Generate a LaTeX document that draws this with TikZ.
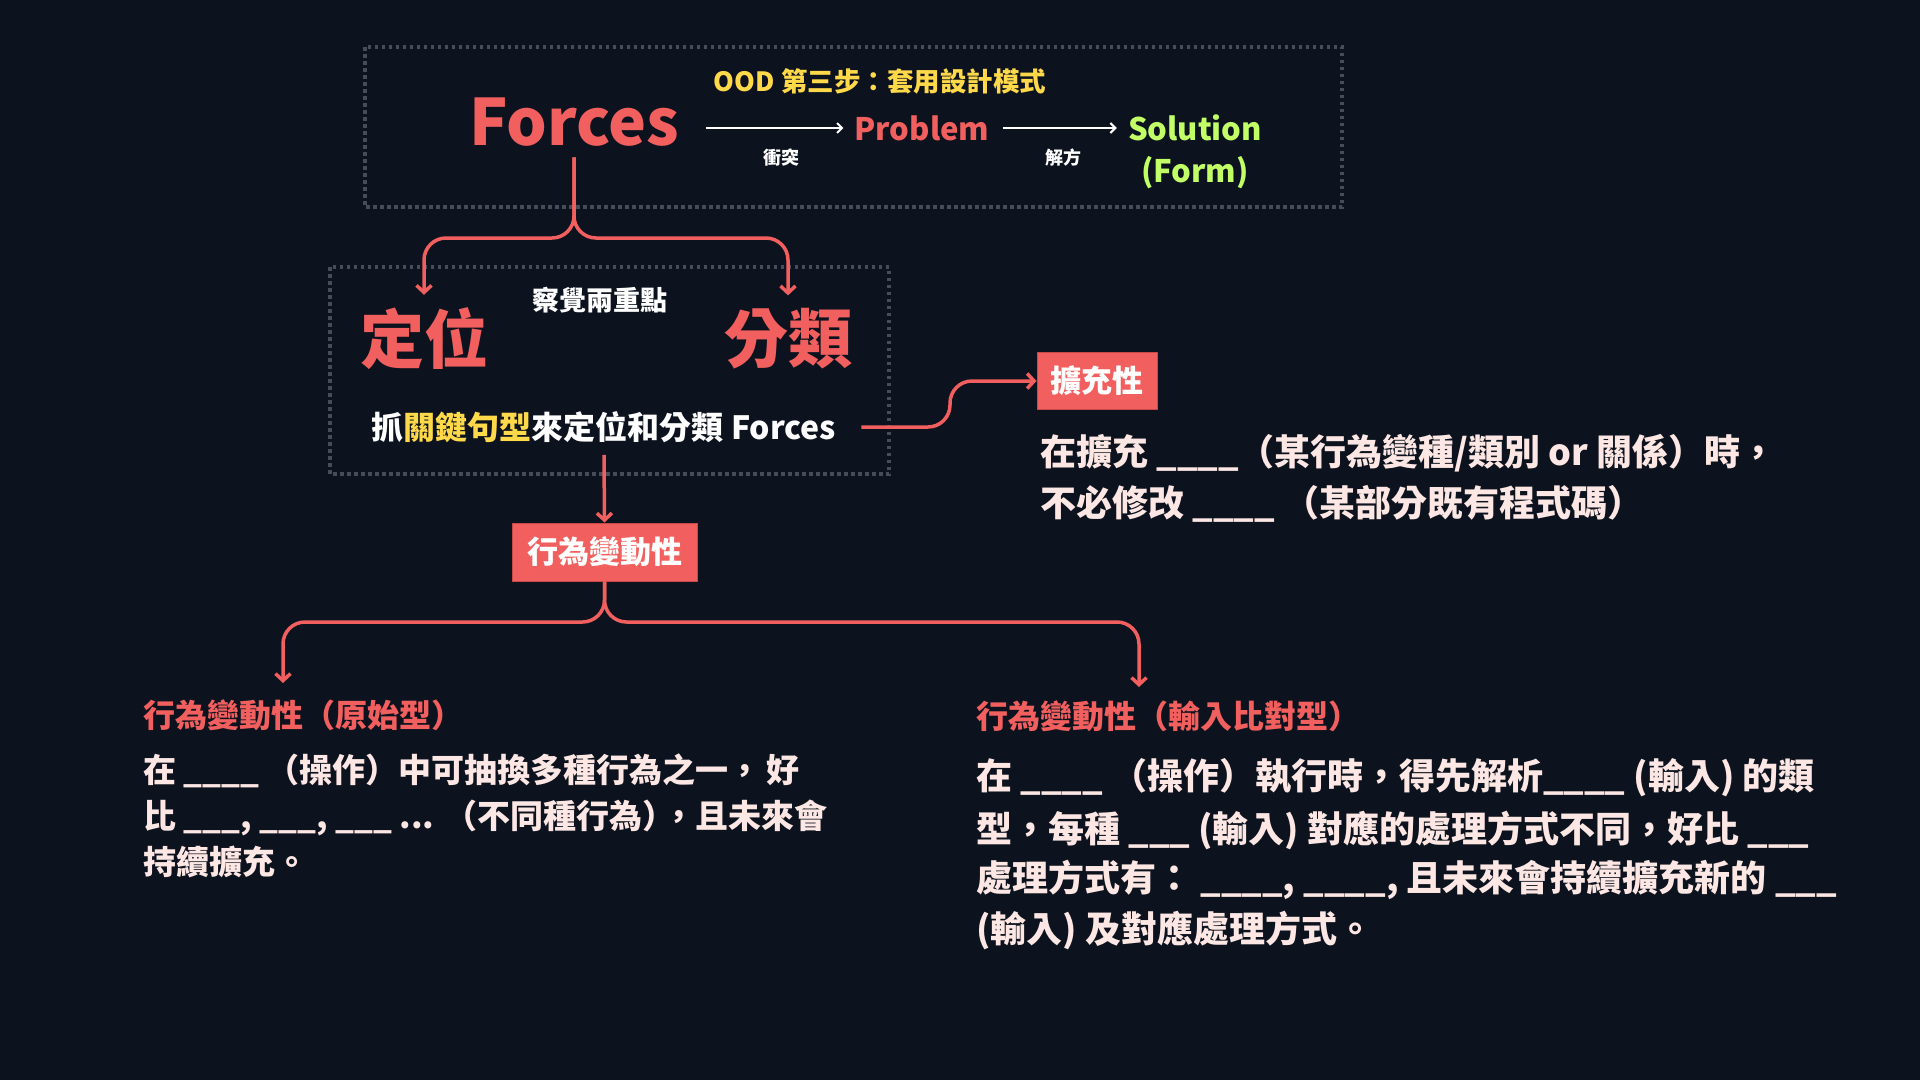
\documentclass[tikz,border=0pt]{standalone}
\usepackage{fontspec}
\setmainfont{Noto Sans CJK TC}
\usetikzlibrary{arrows.meta,calc}
\definecolor{bgc}{HTML}{0D131E}
\definecolor{redc}{HTML}{F25F5F}
\definecolor{redb}{HTML}{C94848}
\definecolor{yelc}{HTML}{FFD94A}
\definecolor{grnc}{HTML}{C2FF66}
\definecolor{txtc}{HTML}{FDE7E4}
\definecolor{boxc}{HTML}{464D58}
\newcommand\fsz[2]{\fontsize{#1pt}{#2pt}\selectfont\bfseries}
\tikzset{
  txt/.style={inner sep=0pt},
  conn/.style={draw=redc, line width=3.5pt, rounded corners=22pt, -{Straight Barb[length=7pt,width=15pt]}},
  warr/.style={draw=white, line width=2pt, -{Straight Barb[length=5pt,width=10pt]}},
  dbox/.style={draw=boxc, line width=3.5pt, dash pattern=on 3.5pt off 3.5pt},
  redbox/.style={fill=redc, draw=redb, line width=1pt, text=white, inner sep=0pt, font=\fsz{31}{36}},
  para/.style={inner sep=0pt, anchor=base west, text=txtc},
}
\begin{document}
\begin{tikzpicture}[x=1pt,y=-1pt]
\useasboundingbox[fill=bgc] (0,0) rectangle (1920,1080);

% top box
\draw[dbox] (365,47) rectangle (1342,207);
\node[txt, text=redc, font=\fsz{64}{76}, inner ysep=11pt] (forces) at (574,122) {Forces};
\node[txt, text=yelc, font=\fsz{26.5}{32}] (ood) at (880,81) {OOD 第三步：套用設計模式};
\node[txt, text=redc, font=\fsz{31}{38}] (problem) at (922,128) {Problem};
\node[txt, text=grnc, font=\fsz{31}{42}, align=center] (solution) at (1195,152) {Solution\\(Form)};
\node[txt, text=white, font=\fsz{18}{22}] (t1) at (781,158) {衝突};
\node[txt, text=white, font=\fsz{18}{22}] (t2) at (1063,158) {解方};
\draw[warr] ($(problem.west -| forces.east)+(27,0)$) -- ($(problem.west)+(-11,0)$);
\draw[warr] ($(problem.east)+(13,0)$) -- ($(problem.east -| solution.west)+(-11,0)$);

% second box
\draw[dbox] (330,267) rectangle (889,474);
\node[txt, text=white, font=\fsz{27}{31}] (chajue) at (600,300) {察覺兩重點};
\node[txt, text=redc, font=\fsz{64}{70}] (dingwei) at (424,339) {定位};
\node[txt, text=redc, font=\fsz{64}{70}] (fenlei) at (788,339) {分類};
\node[txt, text=white, font=\fsz{32}{38}] (keytext) at (604,427) {抓\textcolor{yelc}{關鍵句型}來定位和分類 Forces};

\coordinate (jf) at (574,238);
\draw[conn] (forces.south) -- (forces.south |- jf) -| ($(dingwei.north)+(0,-13)$);
\draw[conn] (forces.south) -- (forces.south |- jf) -| ($(fenlei.north)+(0,-13)$);

% extensibility
\node[redbox, minimum width=120pt, minimum height=57pt] (kuo) at (1097,381) {擴充性};
\coordinate (kb) at (950,427);
\draw[conn] ([xshift=25pt]keytext.east) -- (kb) |- (kuo.west);
\node[para, font=\fsz{36}{42}] (k1) at (1040,465) {在擴充 \_\_\_\_（某行為變種/類別 or 關係）時，};
\node[para, font=\fsz{36}{42}] (k2) at (1040,516) {不必修改 \_\_\_\_ （某部分既有程式碼）};

% behaviour variability
\node[redbox, minimum width=185pt, minimum height=58pt] (behav) at (604.5,552) {行為變動性};
\draw[conn] ([yshift=-12pt]keytext.south) -- (behav.north);

\coordinate (jb) at (604,622);
\coordinate (tipL) at (283,683);
\coordinate (tipR) at (1139,687);
\draw[conn] (behav.south) -- (behav.south |- jb) -| (tipL);
\draw[conn] (behav.south) -- (behav.south |- jb) -| (tipR);

% left column
\node[para, text=redc, font=\fsz{32}{36}] (hl) at (143,727) {行為變動性（原始型）};
\node[para, font=\fsz{33}{38}] (l1) at (143,782.5) {在 \_\_\_\_ （操作）中可抽換多種行為之一，\kern0.15em 好};
\node[para, font=\fsz{33}{38}] (l2) at (143,828.5) {比 \_\_\_, \_\_\_, \_\_\_ ... （不同種行為）\kern-0.4em，且未來會};
\node[para, font=\fsz{33}{38}] (l3) at (143,874.5) {持續擴充。};

% right column
\node[para, text=redc, font=\fsz{32}{36}] (hr) at (976,728) {行為變動性（輸入比對型）};
\node[para, font=\fsz{36}{40}] (r1) at (976,789) {在 \_\_\_\_ （操作）執行時，得先解析\_\_\_\_ (輸入) 的類};
\node[para, font=\fsz{36}{40}] (r2) at (976,842) {型，每種 \_\_\_ (輸入) 對應的處理方式不同，好比 \_\_\_};
\node[para, font=\fsz{36}{40}] (r3) at (976,891) {處理方式有： \_\_\_\_, \_\_\_\_, 且未來會持續擴充新的 \_\_\_};
\node[para, font=\fsz{36}{40}] (r4) at (976,942) {(輸入) 及對應處理方式。};
\end{tikzpicture}
\end{document}
